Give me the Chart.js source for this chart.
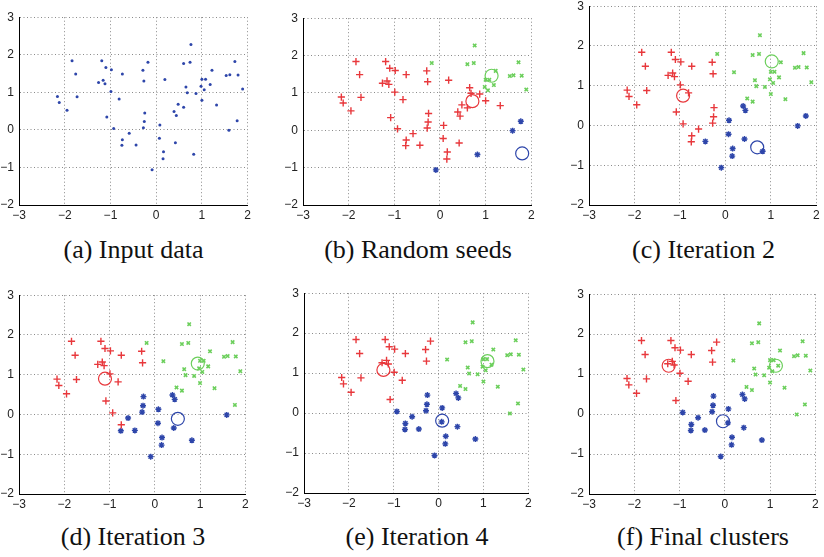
<!DOCTYPE html>
<html>
<head>
<meta charset="utf-8">
<script src="https://cdn.jsdelivr.net/npm/chart.js@4.4.0/dist/chart.umd.min.js"></script>
<style>
  body { margin: 0; background: #fff; width: 824px; height: 557px; position: relative; overflow: hidden; }
  canvas { position: absolute; }
  .caption { position: absolute; font-family: "Liberation Serif", "Times New Roman", serif; font-size: 26px; color: #111; white-space: nowrap; transform: translateX(-50%); line-height: 1; }
</style>
</head>
<body>
<script>
// the 60 input points (same in every panel)
const pointX = [-2.16, -2.12, -1.95, -1.84, -1.76, -1.73, -1.26, -1.19, -1.16, -1.10,
  -1.12, -0.98, -0.99, -1.08, -0.93, -0.81, -0.74, -0.74, -0.75, -0.59,
  -0.44, -0.29, -0.27, -0.25, -0.26, -0.28, -0.18, -0.09, 0.08, 0.07,
  0.16, 0.15, 0.19, 0.39, 0.44, 0.42, 0.48, 0.60, 0.60, 0.65,
  0.68, 0.74, 0.76, 0.82, 0.87, 0.98, 1.00, 1.00, 1.05, 1.08,
  1.18, 1.22, 1.32, 1.53, 1.61, 1.59, 1.72, 1.79, 1.77, 1.89];
const pointY = [0.89, 0.73, 0.52, 1.84, 1.49, 0.88, 1.26, 1.84, 1.32, 1.66,
  1.23, 1.60, 1.02, 0.34, 0.04, 0.82, 1.49, -0.26, -0.41, -0.09,
  -0.40, 1.59, 1.30, 0.45, 0.22, 0.06, 1.80, -1.06, 0.13, -0.22,
  -0.58, -0.77, 1.34, 0.49, 0.38, -0.34, 0.68, 0.60, 1.77, 1.14,
  0.99, 1.80, 2.27, -0.65, 0.97, 1.16, 1.35, 0.79, 1.07, 1.35,
  1.21, 1.59, 0.66, 1.45, 1.47, -0.01, 1.82, 1.46, 0.24, 1.09];

// cluster of each point in panels b..f: 0 = red, 1 = green, 2 = blue
const clusterB = [0, 0, 0, 0, 0, 0, 0, 0, 0, 0, 0, 0, 0, 0, 0, 0, 0, 0, 0, 0,
  0, 0, 0, 0, 0, 0, 1, 2, 0, 0, 0, 0, 0, 0, 0, 0, 0, 0, 1, 0,
  0, 1, 1, 2, 0, 1, 1, 0, 1, 1, 1, 1, 0, 1, 1, 2, 1, 1, 2, 1];
const clusterC = [0, 0, 0, 0, 0, 0, 0, 0, 0, 0, 0, 0, 0, 0, 0, 0, 0, 0, 0, 0,
  2, 0, 0, 0, 0, 0, 1, 2, 2, 2, 2, 2, 1, 2, 2, 2, 1, 1, 1, 1,
  1, 1, 1, 2, 1, 1, 1, 1, 1, 1, 1, 1, 1, 1, 1, 2, 1, 1, 2, 1];
const clusterD = [0, 0, 0, 0, 0, 0, 0, 0, 0, 0, 0, 0, 0, 0, 0, 0, 0, 0, 2, 2,
  2, 0, 0, 2, 2, 2, 1, 2, 2, 2, 2, 2, 1, 2, 2, 2, 1, 1, 1, 1,
  1, 1, 1, 2, 1, 1, 1, 1, 1, 1, 1, 1, 1, 1, 1, 2, 1, 1, 1, 1];
const clusterE = [0, 0, 0, 0, 0, 0, 0, 0, 0, 0, 0, 0, 0, 0, 2, 0, 0, 2, 2, 2,
  2, 0, 0, 2, 2, 2, 0, 2, 2, 2, 2, 2, 1, 2, 2, 2, 1, 1, 1, 1,
  1, 1, 1, 2, 1, 1, 1, 1, 1, 1, 1, 1, 1, 1, 1, 1, 1, 1, 1, 1];
const clusterF = clusterE.slice();

// centroids (red, green, blue)
const centerXB = [0.71, 1.13, 1.80];
const centerYB = [0.78, 1.46, -0.62];
const centerXC = [-0.93, 1.02, 0.70];
const centerYC = [0.75, 1.61, -0.55];
const centerXD = [-1.10, 0.95, 0.51];
const centerYD = [0.90, 1.28, -0.11];
const centerXE = [-1.23, 1.09, 0.08];
const centerYE = [1.08, 1.30, -0.19];
const centerXF = [-1.24, 1.13, -0.04];
const centerYF = [1.21, 1.21, -0.18];

const xTicks = [-3, -2, -1, 0, 1, 2];
const yTicks = [-2, -1, 0, 1, 2, 3];
const captions = ["(a) Input data", "(b) Random seeds", "(c) Iteration 2",
  "(d) Iteration 3", "(e) Iteration 4", "(f) Final clusters"];

const COLORS = ["#e8383c", "#6ccf5c", "#2e46aa"];
const Y_AXIS_W = 24;
const X_AXIS_H = 20;
const PAD_TOP = 8;
const PAD_RIGHT = 6;

// plot box of every panel in page pixels (left, top, right, bottom) + caption centre y
const panels = [
  { box: [19, 13, 248, 205], capY: 250, clusters: null },
  { box: [303, 14, 533, 205], capY: 250, clusters: clusterB, cx: centerXB, cy: centerYB },
  { box: [589, 2, 818, 205], capY: 250, clusters: clusterC, cx: centerXC, cy: centerYC },
  { box: [19, 291, 247, 494], capY: 537, clusters: clusterD, cx: centerXD, cy: centerYD },
  { box: [304, 289, 530, 493], capY: 537, clusters: clusterE, cx: centerXE, cy: centerYE },
  { box: [589, 290, 817, 494], capY: 537, clusters: clusterF, cx: centerXF, cy: centerYF },
];

function tickText(v) {
  return v < 0 ? "\u2212" + Math.abs(v) : String(v);
}

function pointsOf(clusters, k) {
  const out = [];
  pointX.forEach((x, i) => {
    if (clusters === null || clusters[i] === k) out.push({ x: x, y: pointY[i] });
  });
  return out;
}

function buildDatasets(p) {
  const sets = [];
  if (p.clusters === null) {
    sets.push({ data: pointsOf(null), pointStyle: "circle", pointRadius: 1.5,
      backgroundColor: COLORS[2], borderColor: COLORS[2], borderWidth: 0 });
    return sets;
  }
  // centroid circles go on top
  for (let k = 0; k < 3; k++) {
    sets.push({ data: [{ x: p.cx[k], y: p.cy[k] }], pointStyle: "circle", pointRadius: 6.5,
      backgroundColor: "rgba(0,0,0,0)", borderColor: COLORS[k], borderWidth: 1.2, order: 0 });
  }
  sets.push({ data: pointsOf(p.clusters, 0), pointStyle: "cross", pointRadius: 3.6,
    borderColor: COLORS[0], borderWidth: 1.4, order: 1 });
  sets.push({ data: pointsOf(p.clusters, 1), pointStyle: "crossRot", pointRadius: 2.4,
    borderColor: COLORS[1], borderWidth: 1.6, order: 1 });
  sets.push({ data: pointsOf(p.clusters, 2), pointStyle: "star", pointRadius: 3,
    backgroundColor: "rgba(0,0,0,0)", borderColor: COLORS[2], borderWidth: 1.4, order: 1 });
  return sets;
}

function axis(ticks, min, max, isX) {
  // line at the axis minimum is the solid black axis, the rest is dotted grid
  const onAxis = (ctx) => !ctx.tick || ctx.tick.value === min;
  return {
    type: "linear",
    min: min,
    max: max,
    afterBuildTicks: (a) => { a.ticks = ticks.map((v) => ({ value: v })); },
    afterFit: (a) => { if (isX) a.height = X_AXIS_H; else a.width = Y_AXIS_W; },
    grid: {
      color: (ctx) => (onAxis(ctx) ? "#000" : "#8a8a8a"),
      lineWidth: 1,
      drawTicks: false,
      tickLength: 0,
    },
    border: { display: true, color: "#000", width: 1, dash: (ctx) => (onAxis(ctx) ? [] : [1, 2.5]) },
    ticks: {
      padding: isX ? 3 : 5,
      color: "#222",
      font: { family: "Liberation Sans", size: 12 },
      callback: (v) => tickText(v),
      maxRotation: 0,
      autoSkip: false,
    },
  };
}

panels.forEach((p, idx) => {
  const [l, t, r, b] = p.box;
  const canvas = document.createElement("canvas");
  const w = r - l + Y_AXIS_W + PAD_RIGHT;
  const h = b - t + PAD_TOP + X_AXIS_H;
  canvas.width = w;
  canvas.height = h;
  canvas.style.width = w + "px";
  canvas.style.height = h + "px";
  canvas.style.left = (l - Y_AXIS_W) + "px";
  canvas.style.top = (t - PAD_TOP) + "px";
  document.body.appendChild(canvas);

  new Chart(canvas.getContext("2d"), {
    type: "scatter",
    data: { datasets: buildDatasets(p) },
    options: {
      responsive: false,
      animation: false,
      devicePixelRatio: 1,
      layout: { padding: { top: PAD_TOP, right: PAD_RIGHT, left: 0, bottom: 0 } },
      scales: { x: axis(xTicks, -3, 2, true), y: axis(yTicks, -2, 3, false) },
      plugins: { legend: { display: false }, tooltip: { enabled: false } },
    },
  });

  const cap = document.createElement("div");
  cap.className = "caption";
  cap.innerText = captions[idx];
  cap.style.left = (l + r) / 2 + "px";
  cap.style.top = (p.capY - 13) + "px";
  document.body.appendChild(cap);
});
</script>
</body>
</html>
